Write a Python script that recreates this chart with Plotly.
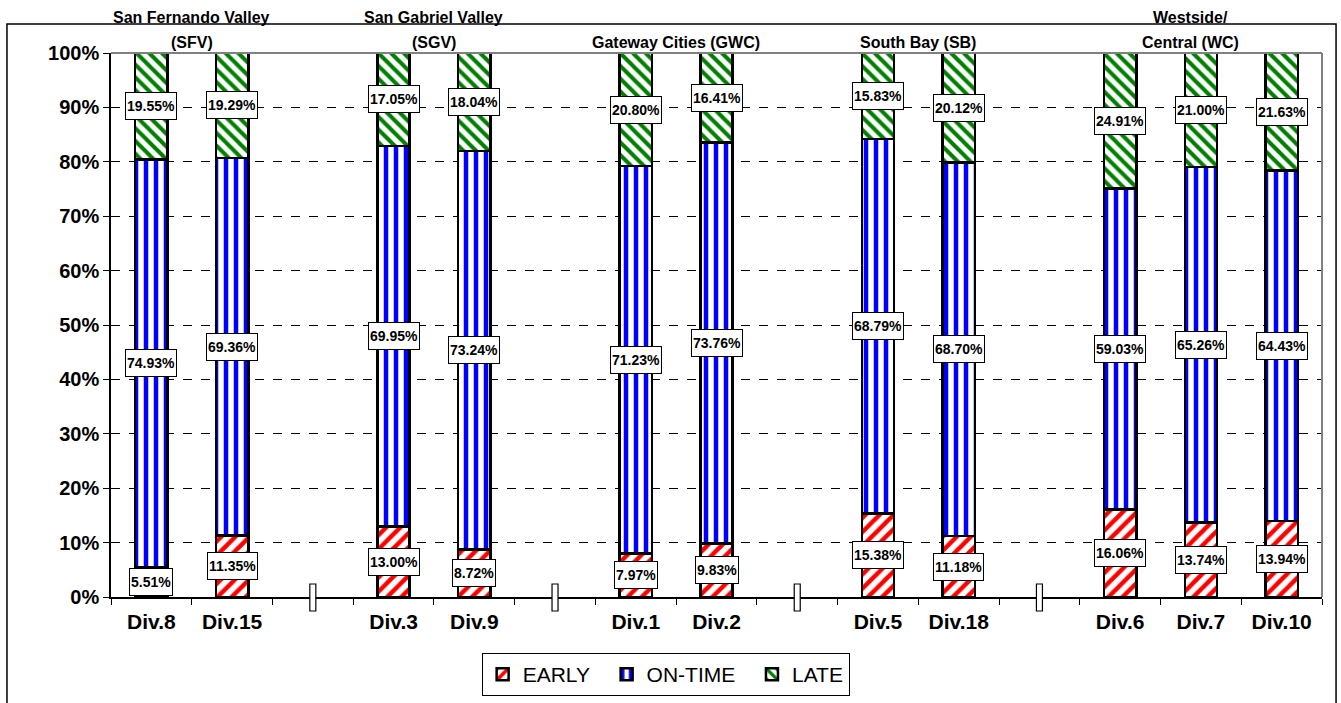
import plotly.graph_objects as go

# ---------------- data ----------------
divisions = ["Div.8", "Div.15", "Div.3", "Div.9", "Div.1", "Div.2",
             "Div.5", "Div.18", "Div.6", "Div.7", "Div.10"]
early = [5.51, 11.35, 13.00, 8.72, 7.97, 9.83, 15.38, 11.18, 16.06, 13.74, 13.94]
on_time = [74.93, 69.36, 69.95, 73.24, 71.23, 73.76, 68.79, 68.70, 59.03, 65.26, 64.43]
late = [19.55, 19.29, 17.05, 18.04, 20.80, 16.41, 15.83, 20.12, 24.91, 21.00, 21.63]

# category order incl. blank separator slots between regions
x_order = ["Div.8", "Div.15", " ", "Div.3", "Div.9", "  ", "Div.1", "Div.2", "   ",
           "Div.5", "Div.18", "    ", "Div.6", "Div.7", "Div.10"]
region_titles = ["San Fernando Valley<br>(SFV)", "San Gabriel Valley<br>(SGV)",
                 "Gateway Cities (GWC)", "South Bay (SB)", "Westside/<br>Central (WC)"]
region_x = [0.5, 3.5, 6.5, 9.5, 12.87]
series_names = ["EARLY", "ON-TIME", "LATE"]

FONT = "Liberation Sans, Arial, sans-serif"
NB = "\u00a0"

fig = go.Figure()
styles = [("#ff0000", "/", 2, 10), ("#0000ff", "|", 2, 10), ("#008000", "\\", 0, 9)]
for name, vals, (col, shp, pad, sz) in zip(series_names, (early, on_time, late), styles):
    fig.add_trace(go.Bar(
        name=name + NB * pad, x=divisions, y=[v / 100 for v in vals],
        marker=dict(color="white",
                    line=dict(color="black", width=2.5),
                    pattern=dict(shape=shp, fgcolor=col, bgcolor="white",
                                 fgopacity=1, size=sz, solidity=0.45,
                                 fillmode="replace")),
        hoverinfo="skip",
    ))

annotations = []
# data labels in boxes
for i, d in enumerate(divisions):
    base = 0.0
    for vals in (early, on_time, late):
        v = vals[i] / 100
        annotations.append(dict(
            x=d, y=base + v / 2, xref="x", yref="y",
            text=f"{vals[i]:.2f}%", showarrow=False,
            font=dict(family=FONT, size=14, color="black", weight="bold"),
            bgcolor="white", bordercolor="black", borderwidth=1,
            borderpad=1, height=24,
        ))
        base += v

# region titles
for t, xr in zip(region_titles, region_x):
    lines = t.split("<br>")
    ys = [1.066, 1.020] if len(lines) == 2 else [1.020]
    for ln, yy in zip(lines, ys):
        annotations.append(dict(
            x=xr, y=yy, xref="x", yref="paper", text=ln, showarrow=False,
            xanchor="center", yanchor="middle",
            font=dict(family=FONT, size=16, color="black", weight="bold"),
        ))

shapes = []
# outer chart frame
shapes.append(dict(type="rect", xref="paper", yref="paper",
                   x0=-0.0859, x1=1.0116, y0=-0.25, y1=1.0533,
                   line=dict(color="black", width=1.5), layer="below"))
# gray plot-area border (top & right)
shapes.append(dict(type="line", xref="paper", yref="paper", x0=0, x1=1, y0=1, y1=1,
                   line=dict(color="#808080", width=2)))
shapes.append(dict(type="line", xref="paper", yref="paper", x0=1, x1=1, y0=0, y1=1,
                   line=dict(color="#808080", width=2)))
# small separator markers at blank slots
for idx, c in enumerate(x_order):
    if c.strip() == "":
        shapes.append(dict(type="rect", xref="x", yref="paper",
                           xsizemode="pixel", xanchor=idx, x0=-3, x1=3,
                           ysizemode="pixel", yanchor=0, y0=-14, y1=13,
                           fillcolor="white", line=dict(color="black", width=1.2)))

fig.update_layout(
    width=1341, height=703,
    margin=dict(l=111, r=19, t=53, b=106, autoexpand=False),
    paper_bgcolor="white", plot_bgcolor="white",
    barmode="stack", bargap=0.6,
    font=dict(family=FONT, color="black"),
    showlegend=True,
    legend=dict(orientation="h", x=0.458, xanchor="center",
                yref="container", y=0.071, yanchor="top",
                bordercolor="black", borderwidth=1, bgcolor="white",
                font=dict(family=FONT, size=21, color="black"),
                traceorder="normal", itemwidth=30),
    annotations=annotations,
    shapes=shapes,
)
fig.update_xaxes(
    type="category", categoryorder="array", categoryarray=x_order,
    range=[-0.5, len(x_order) - 0.5],
    tickson="boundaries", ticks="outside", ticklen=6, tickcolor="black",
    ticklabelstandoff=5,
    showline=True, linecolor="black", linewidth=1.5,
    showgrid=False, zeroline=False, automargin=False,
    tickfont=dict(family=FONT, size=21, color="black", weight="bold"),
    fixedrange=True,
)
fig.update_yaxes(
    range=[0, 1], dtick=0.1, tickformat=".0%",
    ticks="outside", ticklen=6, tickcolor="black",
    showline=True, linecolor="black", linewidth=1.5,
    showgrid=True, gridcolor="black", gridwidth=1, griddash="dash",
    zeroline=False, automargin=False,
    tickfont=dict(family=FONT, size=20, color="black", weight="bold"),
    fixedrange=True,
)

fig.write_html("out.html",
               config={"displayModeBar": False},
               post_script="document.body.style.margin='0';document.body.style.overflow='hidden';")
